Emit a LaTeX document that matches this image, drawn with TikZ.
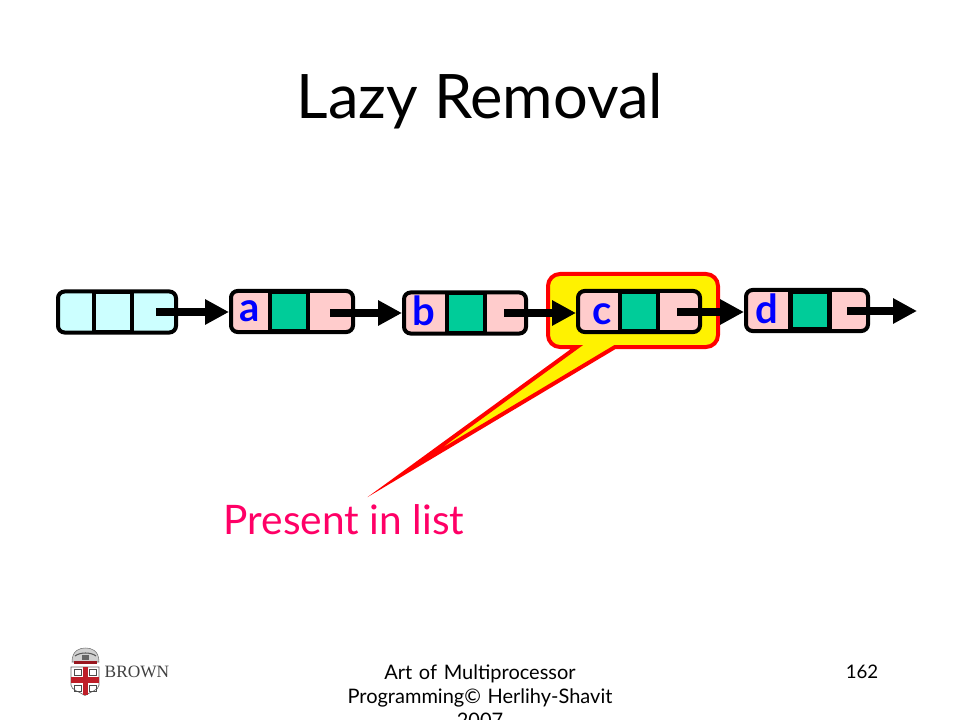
\documentclass[tikz,border=0pt]{standalone}
\usepackage{xcolor}
\usepackage{fontspec}
\setmainfont{Lato}
\newfontfamily\logofont{Liberation Serif}
\usetikzlibrary{arrows.meta, positioning, calc}
\definecolor{cellblue}{RGB}{204, 255, 255}
\definecolor{cellpink}{RGB}{255, 204, 204}
\definecolor{cellgreen}{RGB}{0, 204, 153}
\definecolor{labelpink}{RGB}{255, 0, 102}
\definecolor{shieldred}{RGB}{190, 30, 40}

\begin{document}
\begin{tikzpicture}[
    x=0.75pt, y=-0.75pt,
    listbox/.style={rectangle, draw=black, line width=3pt, fill=cellpink,
                minimum width=91.5pt, minimum height=30.75pt, inner sep=0pt,
                rounded corners=5pt},
    midcell/.style={rectangle, draw=black, line width=3pt, fill=cellgreen,
                minimum width=28.5pt, minimum height=29.75pt, inner sep=0pt},
    letter/.style={text=blue, font=\fontsize{30}{30}\selectfont\bfseries, inner sep=0pt},
    arrow/.style={-{Triangle[length=18pt, width=18pt]}, line width=6pt, black},
    callout/.style={draw=red, fill=yellow, line width=3pt, miter limit=40}
]
    % white page
    \useasboundingbox (0,0) rectangle (960,720);
    \node[font=\fontsize{46}{46}\selectfont] (title) at (480,101.5) {Lazy Removal};

    \draw[callout] [rounded corners=9pt] (640,274) -- (548,274) -- (548,347) [sharp corners]
        -- (577,347) -- (404,473) -- (615,347) [rounded corners=9pt]
        -- (718,347) -- (718,274) -- cycle;

    \node[listbox, fill=cellblue, minimum width=88.5pt] (head) at (117,312) {};
    \node[midcell, fill=cellblue] (headmid) at (112.5,312) {};
    \node[listbox] (a) at (292,311.5) {};
    \node[midcell] (amid) at (289,311.5) {};
    \node[listbox] (b) at (465,313) {};
    \node[midcell] (bmid) at (466,313) {};
    \node[listbox] (c) at (639,311.5) {};
    \node[midcell] (cmid) at (639,311.5) {};
    \node[listbox] (d) at (807,310.5) {};
    \node[midcell, line width=4pt, minimum width=29.5pt, minimum height=29pt] (dmid) at (810,310.5) {};

    \node[letter] (alabel) at (250,311) {a};
    \node[letter] (blabel) at (424,311) {b};
    \node[letter] (clabel) at (602,314) {c};
    \node[letter] (dlabel) at (767,309) {d};

    \coordinate (dend) at (917,311);
    \draw[arrow] ([xshift=-16.5pt]head.east) -- (a.west |- head.east);
    \draw[arrow] ([xshift=-18.75pt]a.east |- b.west) -- (b.west);
    \draw[arrow] ([xshift=-18pt]b.east) -- (c.west |- b.east);
    \draw[arrow] ([xshift=-18.75pt]c.east |- head.east) -- (d.west |- head.east);
    \draw[arrow] ([xshift=-17.25pt]d.east |- dend) -- (dend);

    \node[text=labelpink, font=\fontsize{30.5}{30.5}\selectfont] (present) at (344,520) {Present in list};

    % footer
    \node[font=\fontsize{15}{18}\selectfont, align=center, text width=220pt, anchor=north] (footer)
        at (480,660) {Art of Multiprocessor\\Programming© Herlihy-Shavit\\2007};
    \node[font=\fontsize{14}{14}\selectfont] (pagenum) at (862,672) {162};

    % logo
    \draw[black!55, fill=black!18, line width=0.4pt] (72,662) .. controls (72,650) and (80,648) .. (85.5,648)
        .. controls (91,648) and (99,650) .. (99,662) -- cycle;
    \draw[black!65, line width=0.8pt] (75,656) .. controls (80,652) and (91,652) .. (96,656);
    \fill[black!60] (82,655) rectangle (89,660);
    \fill[shieldred!80!black] (74,661) rectangle (97,664);
    \draw[black!60, fill=white, line width=0.5pt] (71,667) -- (99,667) -- (99,685)
        .. controls (99,690) and (90,692) .. (85,695.5) .. controls (80,692) and (71,690) .. (71,685) -- cycle;
    \fill[shieldred] (82.5,667) rectangle (87.5,695);
    \fill[shieldred] (71,677) rectangle (99,682.5);
    \foreach \bx/\by in {74/669, 89/669, 74/685, 89/685}
        \draw[black!70, line width=0.6pt] (\bx,\by) rectangle ++(7,6);
    \node[font=\fontsize{13}{13}\logofont, text=black!75] (brown) at (137,672) {BROWN};
\end{tikzpicture}
\end{document}
